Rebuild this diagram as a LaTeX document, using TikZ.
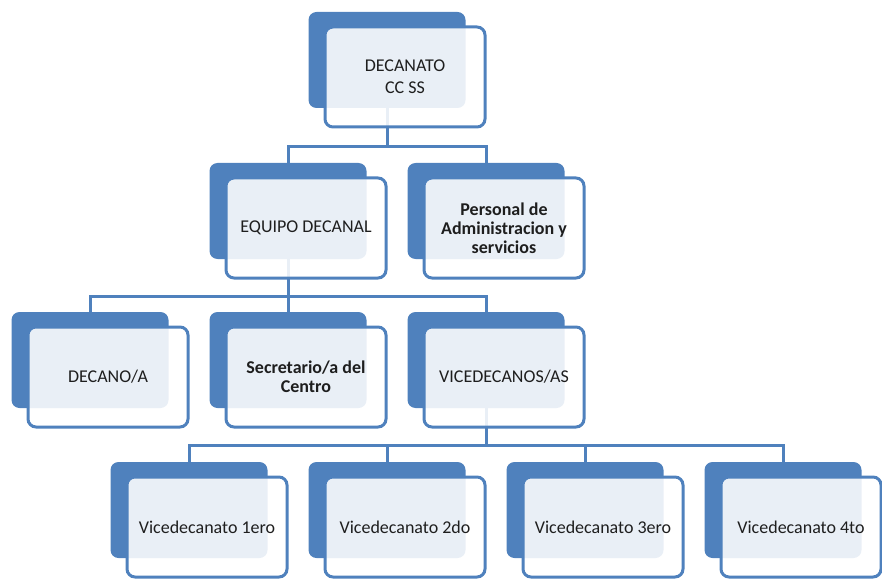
\documentclass[tikz,border=0pt]{standalone}
\usepackage{fontspec}
\setmainfont{Carlito}
\usepackage{tikz}

\definecolor{boxblue}{RGB}{79,129,189}
\definecolor{boxtext}{RGB}{30,30,30}

\tikzset{
  backbox/.style={fill=boxblue, rounded corners=8pt, minimum width=157pt, minimum height=96pt, inner sep=0pt},
  frontbox/.style={draw=boxblue, line width=3pt, fill=white, fill opacity=0.88, text opacity=1,
    rounded corners=8pt, minimum width=160pt, minimum height=100pt, inner sep=0pt,
    align=center, text=boxtext, font=\fontsize{18}{19}\selectfont},
  link/.style={draw=boxblue, line width=3pt}
}

\begin{document}
\begin{tikzpicture}[x=1pt, y=-1pt]
\useasboundingbox (0,0) rectangle (882,585);
% back boxes
\foreach \Name/\PointX/\PointY in {decanato/387/60, equipo/288/211, personal/486/211, decano/90/360, secretario/288/360, vicedecanos/486/360, vice1/189/510, vice2/387/510, vice3/585/510, vice4/783/510}
    \node[backbox] (\Name B) at (\PointX,\PointY) {};
% bus levels
\coordinate (bus1) at (387,147);
\coordinate (bus2) at (288,296);
\coordinate (bus3) at (486,445);
\foreach \Parent/\Bus/\Child in {decanato/bus1/equipo, decanato/bus1/personal, equipo/bus2/decano, equipo/bus2/secretario, equipo/bus2/vicedecanos, vicedecanos/bus3/vice1, vicedecanos/bus3/vice2, vicedecanos/bus3/vice3, vicedecanos/bus3/vice4}
    \draw[link] (\Parent B.south) -- (\Bus) -| (\Child B.north);
% front boxes
\foreach \Name/\NameLabel in {decanato/{DECANATO\\[3pt]CC SS}, equipo/{EQUIPO DECANAL}, personal/{\bfseries Personal de\\\bfseries Administracion y\\\bfseries servicios}, decano/{DECANO/A}, secretario/{\bfseries Secretario/a del\\\bfseries Centro}, vicedecanos/{VICEDECANOS/AS}, vice1/{Vicedecanato 1ero}, vice2/{Vicedecanato 2do}, vice3/{Vicedecanato 3ero}, vice4/{Vicedecanato 4to}}
    \node[frontbox] (\Name) at ([shift={(18,17)}]\Name B.center) {\NameLabel};
\end{tikzpicture}
\end{document}
